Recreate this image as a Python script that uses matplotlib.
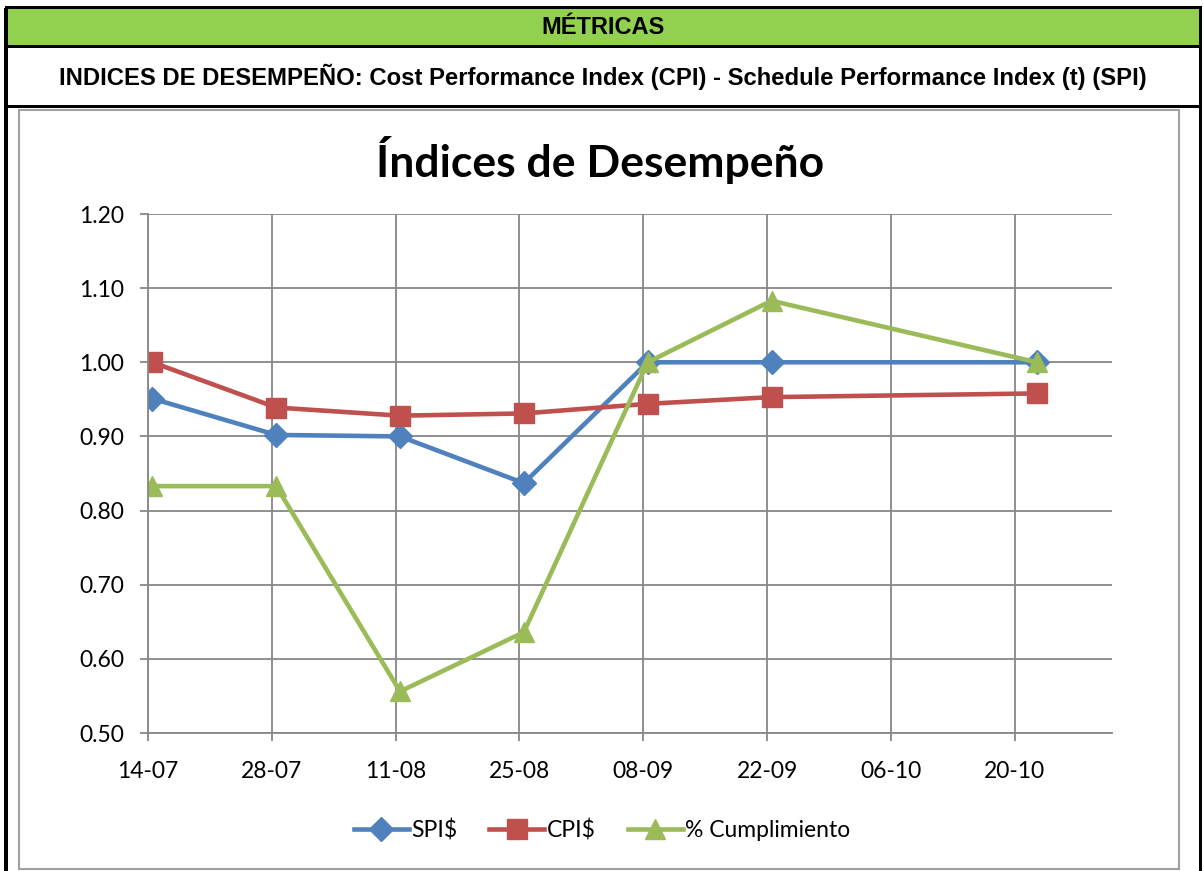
import matplotlib
matplotlib.use('Agg')
import matplotlib.pyplot as plt
import matplotlib.dates as mdates
from matplotlib.patches import Rectangle
import numpy as np
import pandas as pd

# datos
fechas = ['2014-07-14', '2014-07-28', '2014-08-11', '2014-08-25',
          '2014-09-08', '2014-09-22', '2014-10-22']
spi = [0.951, 0.902, 0.900, 0.837, 1.000, 1.000, 1.000]
cpi = [1.000, 0.939, 0.928, 0.931, 0.944, 0.953, 0.958]
cumplimiento = [0.833, 0.833, 0.556, 0.636, 1.000, 1.083, 1.000]

tick_fechas = ['2014-07-14', '2014-07-28', '2014-08-11', '2014-08-25',
               '2014-09-08', '2014-09-22', '2014-10-06', '2014-10-20']
x_min, x_max = '2014-07-14', '2014-10-31'

W, H = 1204, 871
fig = plt.figure(figsize=(W / 100, H / 100), dpi=100)
fig.patch.set_facecolor('white')


def px_rect(x0, y0, x1, y1, **kw):
    # rectangulo en pixeles (origen arriba-izquierda), detras de los ejes
    r = Rectangle((x0 / W, 1 - y1 / H), (x1 - x0) / W, (y1 - y0) / H,
                  transform=fig.transFigure, zorder=-5, **kw)
    fig.patches.append(r)


# encabezado tipo planilla
px_rect(6, 8, 1201, 47, facecolor='#92D050', edgecolor='none')
px_rect(19, 110, 1179, 869, facecolor='white', edgecolor='#A0A0A0', lw=1.5)
for y in (8, 47, 107):
    px_rect(5, y - 1.5, 1202, y + 1.5, facecolor='black', edgecolor='none')
px_rect(4, 8, 7.5, 871, facecolor='black', edgecolor='none')
px_rect(1198.5, 8, 1202, 871, facecolor='black', edgecolor='none')

fig.text(603 / W, 1 - 28 / H, 'MÉTRICAS', ha='center', va='center',
         fontsize=17, fontweight='bold', family='Liberation Sans')
fig.text(603 / W, 1 - 77 / H,
         'INDICES DE DESEMPEÑO: Cost Performance Index (CPI) - Schedule Performance Index (t) (SPI)',
         ha='center', va='center', fontsize=17.2, fontweight='bold',
         family='Liberation Sans')

fig.text(600 / W, 1 - 160 / H, 'Índices de Desempeño', ha='center', va='center',
         fontsize=32, fontweight='bold', family='Lato')

ax = fig.add_axes([148 / W, 1 - 733 / H, 964 / W, 519 / H])
x = pd.to_datetime(fechas) + pd.Timedelta(hours=12)  # puntos entre marcas

ax.plot(x, spi, color='#4F81BD', lw=3.3, marker='D', ms=12, label='SPI$')
ax.plot(x, cpi, color='#C0504D', lw=3.3, marker='s', ms=14, label='CPI$')
ax.plot(x, cumplimiento, color='#9BBB59', lw=3.3, marker='^', ms=15,
        label='% Cumplimiento')

ax.set_xlim(pd.Timestamp(x_min), pd.Timestamp(x_max))
ax.set_ylim(0.5, 1.2)
ax.set_xticks(pd.to_datetime(tick_fechas))
ax.xaxis.set_major_formatter(mdates.DateFormatter('%d-%m'))
ax.set_yticks(np.arange(0.5, 1.201, 0.1))
ax.yaxis.set_major_formatter(plt.FormatStrFormatter('%.2f'))

ax.grid(True, color='#878787', lw=1.3)
ax.set_axisbelow(True)
for s in ('top', 'right'):
    ax.spines[s].set_visible(False)
for s in ('left', 'bottom'):
    ax.spines[s].set_color('#878787')
    ax.spines[s].set_linewidth(1.3)
ax.tick_params(axis='both', length=6, width=1.3, color='#878787',
               labelsize=16.5)
for lab in ax.get_xticklabels() + ax.get_yticklabels():
    lab.set_family('Lato')
ax.tick_params(axis='x', pad=14)
ax.tick_params(axis='y', pad=11)

leg = fig.legend(loc='center', bbox_to_anchor=(602 / W, 1 - 830 / H), ncol=3,
                 frameon=False, prop={'family': 'Lato', 'size': 16.5},
                 handlelength=2.4, columnspacing=1.4, handletextpad=0.1)

fig.savefig('out.png', dpi=100)
